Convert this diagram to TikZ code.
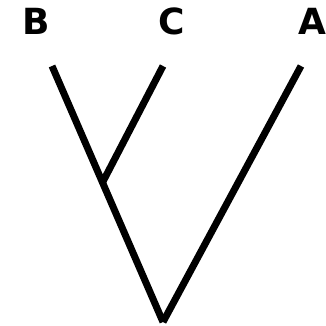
\documentclass[tikz,border=0pt]{standalone}
\usepackage{fontspec}
\setmainfont{DejaVu Sans}
\usepackage{tikz}
\usetikzlibrary{calc}
\tikzset{
  taxon/.style={font=\fontsize{36}{36}\selectfont\bfseries,inner sep=0pt,anchor=base},
  branch/.style={line width=7pt,line cap=butt}
}

\begin{document}
\begin{tikzpicture}[x=1pt,y=1pt]
  \useasboundingbox (0,0) rectangle (326,326);
  % labels
  \node[taxon] (lb) at (36,291) {B};
  \node[taxon] (lc) at (172,291) {C};
  \node[taxon] (la) at (312,291) {A};
  % tips, node and root
  \coordinate (tb) at (52,260);
  \coordinate (tc) at (163,260);
  \coordinate (ta) at (301,260);
  \coordinate (root) at (163,4);
  \coordinate (j) at ($(tb)!0.455!(root)$);
  \draw[branch] (tb) -- (root);
  \draw[branch] (ta) -- (root);
  \draw[branch] (tc) -- (j);
\end{tikzpicture}
\end{document}
